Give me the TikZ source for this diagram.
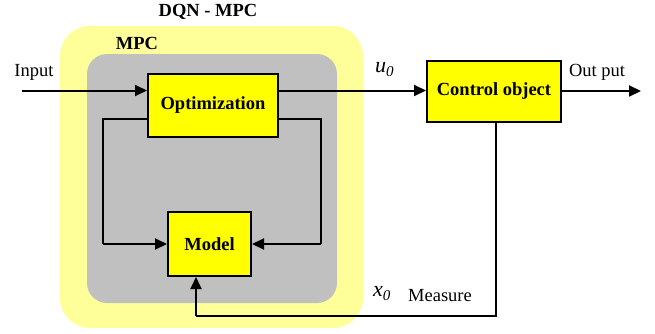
\documentclass[tikz,border=0pt]{standalone}
\usepackage{fontspec}
\setmainfont{Liberation Serif}
\usetikzlibrary{arrows.meta}
\definecolor{outeryellow}{RGB}{255,255,153}
\definecolor{innergray}{RGB}{192,192,192}
\definecolor{boxyellow}{RGB}{255,255,0}
\newcommand{\mysub}[1]{\raisebox{-4pt}{\fontsize{15}{15}\selectfont\itshape #1}}
\tikzset{
  blk/.style={draw=black, line width=2pt, fill=boxyellow, inner sep=0pt,
    font=\fontsize{18.5}{22}\selectfont\bfseries},
  lbl/.style={inner sep=0pt, font=\fontsize{18.5}{22}\selectfont},
  vlbl/.style={inner sep=0pt, font=\fontsize{22}{24}\selectfont\itshape},
  blbl/.style={inner sep=0pt, font=\fontsize{18.5}{22}\selectfont\bfseries},
  conn/.style={line width=2pt},
  arr/.style={line width=2pt, -{Triangle[length=12pt,width=11pt]}}
}
\begin{document}
\begin{tikzpicture}[x=1pt,y=-1pt]
\useasboundingbox (0,0) rectangle (655,333);
% backgrounds
\fill[outeryellow, rounded corners=30pt] (60,26) rectangle (363,328);
\fill[innergray, rounded corners=20pt] (87,54) rectangle (337,303);
% labels
\node[blbl] (title) at (208,12) {DQN - MPC};
\node[blbl] (mpc) at (137,43) {MPC};
% blocks
\node[blk, minimum width=130pt, minimum height=63pt] (opt) at (213,105.5) {Optimization};
\node[blk, minimum width=83pt, minimum height=64pt] (model) at (209.5,244) {Model};
\node[blk, minimum width=134pt, minimum height=61pt] (ctrl) at (494,91) {Control object};
% coordinates
\coordinate (inp) at (22,90.5);
\coordinate (outp) at (641,91);
\coordinate (lt) at (103,119);
\coordinate (lb) at (103,244);
\coordinate (rt) at (321,119);
\coordinate (rb) at (321,244);
\coordinate (mb) at (496,316);
\coordinate (ml) at (196,316);
% connectors
\draw[arr] (inp) -- (opt.west |- inp);
\draw[arr] (opt.east |- inp) -- (ctrl.west |- inp);
\draw[arr] (ctrl.east) -- (outp);
\draw[conn] (opt.west |- lt) -- (lt) -- (lb);
\draw[arr] (lb) -- (model.west);
\draw[conn] (opt.east |- rt) -- (rt) -- (rb);
\draw[arr] (rb) -- (model.east);
\draw[conn] (ctrl.south -| mb) -- (mb) -- (ml);
\draw[arr] (ml) -- (ml |- model.south);
% text labels
\node[lbl] (input) at (34,72) {Input};
\node[vlbl, anchor=base west] (u0) at (375,72.5) {u\mysub{0}};
\node[lbl] (outlbl) at (597,72) {Out put};
\node[vlbl, anchor=base west] (x0) at (373,296.5) {x\mysub{0}};
\node[lbl] (meas) at (440,296) {Measure};
\end{tikzpicture}
\end{document}
